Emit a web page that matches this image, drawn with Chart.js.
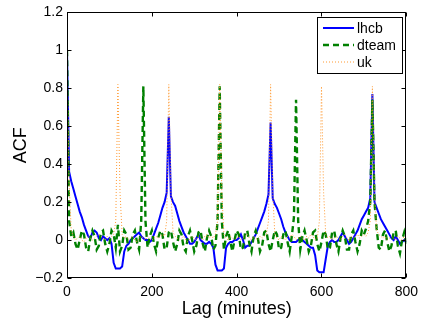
<!DOCTYPE html>
<html>
<head>
<meta charset="utf-8">
<script src="https://cdn.jsdelivr.net/npm/chart.js@4"></script>
<style>
  html, body { margin: 0; padding: 0; background: #fff; }
  canvas { display: block; }
</style>
</head>
<body>
<canvas id="acfChart" width="424" height="321"></canvas>
<script>
// ─────────────────────────────
// DONNEES
// ─────────────────────────────
const lags = [
  0, 5, 10, 15, 20, 25, 30, 35, 40, 45,
  50, 55, 60, 65, 70, 75, 80, 85, 90, 95,
  100, 105, 110, 115, 120, 125, 130, 135, 140, 145,
  150, 155, 160, 165, 170, 175, 180, 185, 190, 195,
  200, 205, 210, 215, 220, 225, 230, 235, 240, 245,
  250, 255, 260, 265, 270, 275, 280, 285, 290, 295,
  300, 305, 310, 315, 320, 325, 330, 335, 340, 345,
  350, 355, 360, 365, 370, 375, 380, 385, 390, 395,
  400, 405, 410, 415, 420, 425, 430, 435, 440, 445,
  450, 455, 460, 465, 470, 475, 480, 485, 490, 495,
  500, 505, 510, 515, 520, 525, 530, 535, 540, 545,
  550, 555, 560, 565, 570, 575, 580, 585, 590, 595,
  600, 605, 610, 615, 620, 625, 630, 635, 640, 645,
  650, 655, 660, 665, 670, 675, 680, 685, 690, 695,
  700, 705, 710, 715, 720, 725, 730, 735, 740, 745,
  750, 755, 760, 765, 770, 775, 780, 785, 790, 795,
  800
];

const lhcb = [
  1.0, 0.36, 0.31, 0.27, 0.23, 0.19, 0.15, 0.12, 0.08, 0.05,
  0.02, 0.01, 0.04, 0.05, 0.04, 0.01, 0.0, 0.02, 0.01, 0.0,
  0.01, -0.02, -0.12, -0.15, -0.15, -0.15, -0.14, -0.06, -0.03, -0.02,
  0.0, 0.01, 0.02, 0.03, 0.04, 0.02, 0.01, 0.0, 0.0, -0.01,
  0.0, 0.03, 0.06, 0.09, 0.13, 0.17, 0.2, 0.25, 0.65, 0.23,
  0.2, 0.18, 0.14, 0.1, 0.07, 0.04, 0.02, 0.0, -0.02, -0.02,
  -0.01, 0.01, 0.03, 0.0, -0.01, -0.02, -0.02, -0.01, -0.02, -0.04,
  -0.13, -0.16, -0.16, -0.16, -0.15, -0.04, -0.02, -0.01, -0.01, 0.0,
  0.0, 0.01, 0.03, 0.0, -0.04, -0.03, -0.03, -0.01, 0.01, 0.03,
  0.06, 0.09, 0.12, 0.15, 0.19, 0.24, 0.62, 0.22, 0.19, 0.17,
  0.14, 0.11, 0.07, 0.04, 0.02, 0.0, -0.01, -0.01, -0.01, 0.0,
  0.01, 0.0, -0.01, -0.02, -0.03, -0.04, -0.04, -0.08, -0.16, -0.17,
  -0.17, -0.17, -0.1, -0.03, -0.01, 0.0, -0.01, -0.01, 0.0, 0.02,
  0.04, 0.02, 0.0, -0.02, -0.01, 0.01, 0.03, 0.05, 0.08, 0.11,
  0.13, 0.15, 0.17, 0.22, 0.77, 0.2, 0.17, 0.14, 0.11, 0.09,
  0.07, 0.05, 0.03, 0.01, 0.0, 0.02, 0.0, -0.02, -0.01, 0.0,
  -0.01
];

const dteam = [
  1.0, 0.1, 0.02, 0.04, -0.02, -0.05, 0.0, 0.05, 0.03, -0.04,
  -0.06, 0.01, 0.05, 0.02, -0.05, -0.03, 0.04, 0.05, -0.02, -0.06,
  -0.02, 0.05, 0.03, -0.04, 0.08, -0.06, -0.03, 0.05, 0.03, -0.05,
  -0.04, 0.03, 0.05, -0.01, -0.05, 0.1, 0.81, 0.1, -0.04, 0.02,
  0.05, -0.02, -0.06, 0.01, 0.05, 0.03, -0.05, -0.04, 0.04, 0.05,
  -0.01, -0.06, -0.02, 0.05, 0.03, -0.04, -0.06, 0.02, 0.05, 0.0,
  -0.06, -0.03, 0.04, 0.05, -0.02, -0.06, 0.01, 0.05, 0.02, -0.05,
  -0.03, 0.1, 0.81, 0.1, -0.05, 0.02, 0.05, -0.01, -0.06, 0.0,
  0.05, 0.03, -0.05, -0.04, 0.04, 0.05, -0.02, -0.06, 0.02, 0.05,
  0.01, -0.06, -0.03, 0.04, 0.05, -0.02, -0.06, 0.0, 0.05, 0.03,
  -0.05, -0.04, 0.03, 0.05, -0.01, -0.06, 0.02, 0.12, 0.74, 0.1,
  -0.05, 0.02, 0.05, 0.0, -0.06, -0.03, 0.04, 0.05, -0.02, -0.06,
  -0.01, 0.05, 0.03, -0.05, -0.04, 0.04, 0.05, -0.02, -0.06, 0.01,
  0.05, 0.02, -0.05, -0.05, 0.03, 0.05, -0.01, -0.06, -0.02, 0.05,
  0.03, 0.06, 0.1, 0.2, 0.74, 0.2, 0.06, -0.04, -0.05, 0.03,
  0.05, -0.01, -0.06, -0.03, 0.04, 0.05, -0.03, -0.07, 0.0, 0.04,
  -0.02
];

const uk = [
  1.0, 0.3, 0.05, 0.02, 0.0, 0.01, 0.02, 0.0, -0.01, 0.01,
  0.02, 0.01, 0.0, 0.01, 0.02, 0.03, 0.02, 0.01, 0.0, 0.02,
  0.01, 0.02, 0.03, 0.1, 0.82, 0.25, 0.03, 0.01, 0.02, 0.0,
  0.01, 0.02, 0.0, -0.01, 0.01, 0.02, 0.01, 0.0, 0.02, 0.01,
  0.0, 0.01, 0.02, 0.01, 0.02, 0.03, 0.02, 0.1, 0.82, 0.25,
  0.04, 0.02, 0.01, 0.0, 0.01, 0.02, 0.0, -0.01, 0.01, 0.02,
  0.01, 0.0, 0.02, 0.01, 0.0, 0.02, 0.03, 0.01, 0.02, 0.01,
  0.03, 0.1, 0.82, 0.25, 0.03, 0.01, 0.0, 0.02, 0.01, 0.0,
  0.01, 0.02, 0.0, 0.01, 0.02, 0.03, 0.01, 0.0, 0.02, 0.01,
  0.0, 0.02, 0.01, 0.02, 0.03, 0.1, 0.82, 0.25, 0.03, 0.01,
  0.0, 0.02, 0.01, 0.0, 0.02, 0.01, 0.03, 0.02, 0.0, 0.01,
  0.02, 0.01, 0.0, 0.02, 0.01, 0.03, 0.02, 0.0, 0.01, 0.1,
  0.81, 0.25, 0.03, 0.01, 0.02, 0.0, 0.01, 0.02, 0.01, 0.0,
  0.02, 0.03, 0.01, 0.0, 0.02, 0.01, 0.02, 0.03, 0.01, 0.02,
  0.03, 0.02, 0.04, 0.1, 0.81, 0.25, 0.05, 0.03, 0.02, 0.01,
  0.02, 0.0, 0.01, 0.02, 0.01, 0.0, 0.02, 0.01, 0.0, 0.02,
  0.01
];

const seriesNames = ["lhcb", "dteam", "uk"];
const xTicks = [0, 200, 400, 600, 800];
const yTicks = [-0.2, 0, 0.2, 0.4, 0.6, 0.8, 1, 1.2];
const yTickLabels = ["\u22120.2", "0", "0.2", "0.4", "0.6", "0.8", "1", "1.2"];

// ─────────────────────────────
// STYLES
// ─────────────────────────────
const FONT = "'Liberation Sans', Arial, Helvetica, sans-serif";
const styles = [
  { color: "#0000ff", width: 2, dash: [] },
  { color: "#008000", width: 2.4, dash: [6, 4] },
  { color: "#ff9a33", width: 1, dash: [1, 2] }
];

function toPoints(values) {
  return lags.map((l, i) => ({ x: l, y: values[i] }));
}

// Cadre + graduations vers l'intérieur (style Matlab) et légende encadrée
const framePlugin = {
  id: "frame",
  afterDraw(chart) {
    const ctx = chart.ctx;
    const a = chart.chartArea;
    const xs = chart.scales.x, ys = chart.scales.y;
    const L = Math.round(a.left) + 0.5, R = Math.round(a.right) - 0.5;
    const T = Math.round(a.top) + 0.5, B = Math.round(a.bottom) - 0.5;
    ctx.save();
    ctx.strokeStyle = "#000";
    ctx.lineWidth = 1;
    ctx.setLineDash([]);
    ctx.strokeRect(L, T, R - L, B - T);
    ctx.beginPath();
    xTicks.forEach(v => {
      const px = Math.round(xs.getPixelForValue(v)) + 0.5;
      ctx.moveTo(px, B); ctx.lineTo(px, B - 4);
      ctx.moveTo(px, T); ctx.lineTo(px, T + 4);
    });
    yTicks.forEach(v => {
      const py = Math.round(ys.getPixelForValue(v)) + 0.5;
      ctx.moveTo(L, py); ctx.lineTo(L + 4, py);
      ctx.moveTo(R, py); ctx.lineTo(R - 4, py);
    });
    ctx.stroke();

    // Légende
    const bx = 317.5, by = 17.5, bw = 85, bh = 56;
    ctx.fillStyle = "#fff";
    ctx.fillRect(bx, by, bw, bh);
    ctx.strokeRect(bx, by, bw, bh);
    ctx.font = "14px " + FONT;
    ctx.textBaseline = "middle";
    ctx.textAlign = "left";
    seriesNames.forEach((name, i) => {
      const y = 28 + i * 17;
      const s = styles[i];
      ctx.beginPath();
      ctx.strokeStyle = s.color;
      ctx.lineWidth = s.width;
      ctx.setLineDash(s.dash);
      ctx.moveTo(323, y);
      ctx.lineTo(354, y);
      ctx.stroke();
      ctx.fillStyle = "#000";
      ctx.fillText(name, 357, y + 1);
    });
    ctx.restore();
  }
};

// ─────────────────────────────
// GRAPHIQUE
// ─────────────────────────────
const series = [lhcb, dteam, uk];
const ctx = document.getElementById("acfChart").getContext("2d");

new Chart(ctx, {
  type: "line",
  data: {
    datasets: series.map((vals, i) => ({
      label: seriesNames[i],
      data: toPoints(vals),
      borderColor: styles[i].color,
      borderWidth: styles[i].width,
      borderDash: styles[i].dash,
      pointRadius: 0,
      tension: 0,
      fill: false,
      order: 3 - i
    }))
  },
  options: {
    responsive: false,
    animation: false,
    devicePixelRatio: 1,
    layout: { padding: { top: 12, right: 15, left: 0, bottom: 0 } },
    plugins: {
      legend: { display: false },
      tooltip: { enabled: false }
    },
    scales: {
      x: {
        type: "linear",
        min: 0,
        max: 800,
        afterBuildTicks: s => { s.ticks = xTicks.map(v => ({ value: v })); },
        afterFit: s => { s.height = 43; },
        grid: { display: false, drawTicks: false },
        border: { display: false },
        ticks: {
          color: "#000",
          font: { family: FONT, size: 14 },
          padding: 6,
          maxRotation: 0,
          callback: v => String(v)
        },
        title: {
          display: true,
          text: "Lag (minutes)",
          color: "#000",
          font: { family: FONT, size: 18 },
          padding: { top: 0, bottom: 1 }
        }
      },
      y: {
        type: "linear",
        min: -0.2,
        max: 1.2,
        afterBuildTicks: s => { s.ticks = yTicks.map(v => ({ value: v })); },
        afterFit: s => { s.width = 67; },
        grid: { display: false, drawTicks: false },
        border: { display: false },
        ticks: {
          color: "#000",
          font: { family: FONT, size: 14 },
          padding: 4,
          callback: (v, i) => yTickLabels[i]
        },
        title: {
          display: true,
          text: "ACF",
          color: "#000",
          font: { family: FONT, size: 18 },
          padding: { top: 10, bottom: 0 }
        }
      }
    }
  },
  plugins: [framePlugin]
});
</script>
</body>
</html>
